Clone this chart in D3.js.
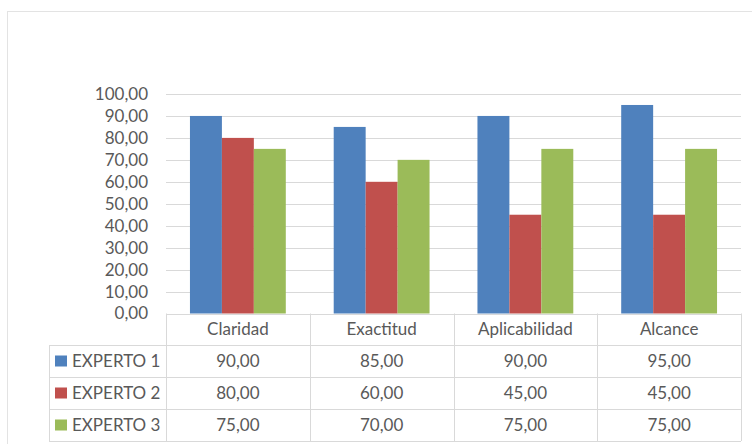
<!DOCTYPE html>
<html>
<head>
<script src="https://cdn.jsdelivr.net/npm/d3@7"></script>
<style>
  body { margin: 0; background: #fff; }
  svg { font-family: Lato, "Open Sans", sans-serif; }
</style>
</head>
<body>
<svg id="chart" width="752" height="444"></svg>
<script>
// data
const categories = ["Claridad", "Exactitud", "Aplicabilidad", "Alcance"];
const series = ["EXPERTO 1", "EXPERTO 2", "EXPERTO 3"];
const experto1 = [90, 85, 90, 95];
const experto2 = [80, 60, 45, 45];
const experto3 = [75, 70, 75, 75];
const yTicks = [0, 10, 20, 30, 40, 50, 60, 70, 80, 90, 100];

const values = [experto1, experto2, experto3];
const colors = ["#4f81bd", "#c0504d", "#9bbb59"];
const textColor = "#595959";
const lineColor = "#d9d9d9";

const svg = d3.select("#chart");
const fmt = v => d3.format(".2f")(v).replace(".", ",");

// outer frame
svg.append("rect")
  .attr("x", 7.5).attr("y", 11.5)
  .attr("width", 760).attr("height", 450)
  .attr("fill", "#fff").attr("stroke", "#e3e3e3");

const plotLeft = 166, plotRight = 741, plotTop = 94, plotBottom = 313.5;

const x0 = d3.scaleBand().domain(categories).range([plotLeft, plotRight]);
const x1 = d3.scaleBand().domain(series).range([0, x0.bandwidth()]).paddingOuter(0.75);
const y = d3.scaleLinear().domain([0, 100]).range([plotBottom, plotTop]);

// gridlines
svg.append("g").selectAll("line")
  .data(yTicks.filter(t => t > 0))
  .join("line")
    .attr("x1", plotLeft).attr("x2", plotRight)
    .attr("y1", d => Math.round(y(d)) + 0.5)
    .attr("y2", d => Math.round(y(d)) + 0.5)
    .attr("stroke", lineColor);

// y labels
svg.append("g").selectAll("text")
  .data(yTicks)
  .join("text")
    .attr("x", 148)
    .attr("y", d => y(d))
    .attr("dy", "0.35em")
    .attr("text-anchor", "end")
    .attr("fill", textColor)
    .style("font-size", "17px")
    .text(fmt);

// bars
const groups = svg.append("g").selectAll("g")
  .data(categories)
  .join("g")
    .attr("transform", d => `translate(${x0(d)},0)`);

groups.selectAll("rect")
  .data((c, i) => series.map((s, j) => ({ s, j, v: values[j][i] })))
  .join("rect")
    .attr("x", d => x1(d.s))
    .attr("y", d => y(d.v))
    .attr("width", x1.bandwidth())
    .attr("height", d => y(0) - y(d.v))
    .attr("fill", d => colors[d.j]);

// data table
const rowTop = [plotBottom, 345, 377, 409, 441];
const legendLeft = 49;
const tbl = svg.append("g");

// horizontal lines
tbl.selectAll("line.h")
  .data(rowTop)
  .join("line")
    .attr("class", "h")
    .attr("x1", (d, i) => i === 0 ? plotLeft : legendLeft)
    .attr("x2", plotRight)
    .attr("y1", d => Math.round(d) + 0.5)
    .attr("y2", d => Math.round(d) + 0.5)
    .attr("stroke", lineColor);

// vertical lines
const colEdges = categories.map(c => x0(c)).concat([plotRight]);
tbl.selectAll("line.v")
  .data(colEdges)
  .join("line")
    .attr("class", "v")
    .attr("x1", d => Math.round(d) + 0.5).attr("x2", d => Math.round(d) + 0.5)
    .attr("y1", plotBottom).attr("y2", rowTop[4])
    .attr("stroke", lineColor);
tbl.append("line")
  .attr("x1", legendLeft + 0.5).attr("x2", legendLeft + 0.5)
  .attr("y1", rowTop[1]).attr("y2", rowTop[4])
  .attr("stroke", lineColor);

// header
tbl.selectAll("text.cat")
  .data(categories)
  .join("text")
    .attr("class", "cat")
    .attr("x", d => x0(d) + x0.bandwidth() / 2)
    .attr("y", (rowTop[0] + rowTop[1]) / 2)
    .attr("dy", "0.35em")
    .attr("text-anchor", "middle")
    .attr("fill", textColor)
    .style("font-size", "17px")
    .text(d => d);

// rows
series.forEach((s, j) => {
  const cy = (rowTop[j + 1] + rowTop[j + 2]) / 2;
  tbl.append("rect")
    .attr("x", 55).attr("y", cy - 5.5)
    .attr("width", 12).attr("height", 11)
    .attr("fill", colors[j]);
  tbl.append("text")
    .attr("x", 72).attr("y", cy).attr("dy", "0.35em")
    .attr("fill", textColor)
    .style("font-size", "17px")
    .text(s);
  tbl.selectAll(null)
    .data(values[j])
    .join("text")
      .attr("x", (d, i) => x0(categories[i]) + x0.bandwidth() / 2)
      .attr("y", cy).attr("dy", "0.35em")
      .attr("text-anchor", "middle")
      .attr("fill", textColor)
      .style("font-size", "17px")
      .text(fmt);
});
</script>
</body>
</html>
